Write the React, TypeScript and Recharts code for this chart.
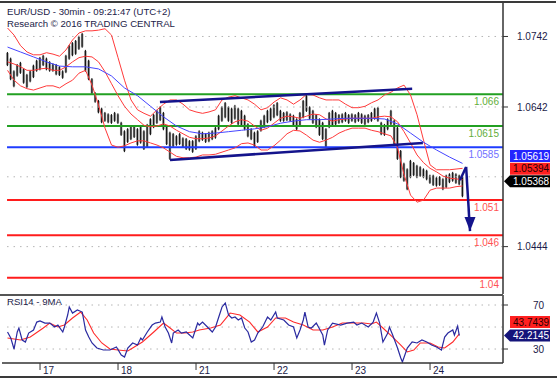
import React from "react";
import { ComposedChart, Bar, Line, XAxis, YAxis, ReferenceLine, ReferenceDot } from "recharts";

// time axis: hours since 16th 00:00 (weekend gap removed)
const BAR_START = 14;
const barHigh = [
  1.0720, 1.0712, 1.0694, 1.0703, 1.0706, 1.0697, 1.0689, 1.0694, 1.0702, 1.0709,
  1.0713, 1.0716, 1.0712, 1.0707, 1.0704, 1.0703, 1.0700, 1.0694, 1.0716, 1.0730,
  1.0734, 1.0737, 1.0743, 1.0747, 1.0723, 1.0709, 1.0683, 1.0663, 1.0652, 1.0641,
  1.0635, 1.0633, 1.0632, 1.0635, 1.0633, 1.0621, 1.0609, 1.0612, 1.0615, 1.0616,
  1.0612, 1.0615, 1.0609, 1.0618, 1.0626, 1.0632, 1.0638, 1.0643, 1.0635, 1.0615,
  1.0607, 1.0605, 1.0602, 1.0605, 1.0599, 1.0598, 1.0595, 1.0595, 1.0602, 1.0609,
  1.0607, 1.0605, 1.0607, 1.0609, 1.0614, 1.0631, 1.0643, 1.0649, 1.0643, 1.0641,
  1.0645, 1.0641, 1.0638, 1.0631, 1.0619, 1.0612, 1.0607, 1.0609, 1.0624, 1.0631,
  1.0638, 1.0641, 1.0646, 1.0649, 1.0638, 1.0635, 1.0636, 1.0633, 1.0631, 1.0626,
  1.0635, 1.0652, 1.0659, 1.0643, 1.0638, 1.0632, 1.0626, 1.0621, 1.0612, 1.0635,
  1.0638, 1.0635, 1.0632, 1.0633, 1.0635, 1.0632, 1.0633, 1.0632, 1.0635, 1.0633,
  1.0631, 1.0632, 1.0635, 1.0641, 1.0642, 1.0621, 1.0618, 1.0626, 1.0638, 1.0624,
  1.0614, 1.0581, 1.0563, 1.0555, 1.0567, 1.0564, 1.0560, 1.0558, 1.0555, 1.0553,
  1.0546, 1.0546, 1.0543, 1.0544, 1.0541, 1.0546, 1.0548, 1.0550, 1.0548, 1.0546, 1.0544,
];
const barLow = [
  1.0700, 1.0680, 1.0670, 1.0685, 1.0689, 1.0675, 1.0669, 1.0677, 1.0683, 1.0692,
  1.0694, 1.0700, 1.0694, 1.0692, 1.0692, 1.0687, 1.0686, 1.0682, 1.0690, 1.0709,
  1.0714, 1.0716, 1.0723, 1.0726, 1.0692, 1.0680, 1.0660, 1.0648, 1.0633, 1.0619,
  1.0621, 1.0619, 1.0618, 1.0621, 1.0618, 1.0601, 1.0578, 1.0591, 1.0595, 1.0598,
  1.0587, 1.0590, 1.0581, 1.0584, 1.0602, 1.0612, 1.0618, 1.0622, 1.0609, 1.0588,
  1.0567, 1.0585, 1.0587, 1.0588, 1.0584, 1.0581, 1.0580, 1.0577, 1.0581, 1.0592,
  1.0594, 1.0591, 1.0592, 1.0595, 1.0597, 1.0609, 1.0621, 1.0626, 1.0621, 1.0618,
  1.0624, 1.0616, 1.0614, 1.0609, 1.0599, 1.0595, 1.0585, 1.0591, 1.0607, 1.0612,
  1.0619, 1.0622, 1.0626, 1.0629, 1.0621, 1.0621, 1.0622, 1.0621, 1.0614, 1.0609,
  1.0615, 1.0626, 1.0635, 1.0624, 1.0618, 1.0612, 1.0601, 1.0595, 1.0584, 1.0612,
  1.0615, 1.0616, 1.0618, 1.0619, 1.0621, 1.0618, 1.0621, 1.0619, 1.0621, 1.0618,
  1.0616, 1.0619, 1.0621, 1.0624, 1.0621, 1.0602, 1.0601, 1.0609, 1.0616, 1.0588,
  1.0567, 1.0541, 1.0536, 1.0524, 1.0541, 1.0544, 1.0541, 1.0543, 1.0541, 1.0538,
  1.0533, 1.0530, 1.0529, 1.0530, 1.0524, 1.0527, 1.0534, 1.0536, 1.0533, 1.0531, 1.0514,
];

// bollinger bands, every 2 hours
const BAND_START = 14;
const BAND_STEP = 2;
const bandUpper = [
  1.0754, 1.0744, 1.0729, 1.0720, 1.0716, 1.0716, 1.0719, 1.0717, 1.0714, 1.0723,
  1.0737, 1.0747, 1.0750, 1.0750, 1.0751, 1.0753, 1.0744, 1.0712, 1.0680, 1.0652,
  1.0638, 1.0633, 1.0629, 1.0638, 1.0646, 1.0652, 1.0652, 1.0646, 1.0638, 1.0635,
  1.0633, 1.0635, 1.0638, 1.0652, 1.0656, 1.0658, 1.0655, 1.0652, 1.0646, 1.0638,
  1.0641, 1.0649, 1.0655, 1.0652, 1.0646, 1.0652, 1.0660, 1.0659, 1.0655, 1.0652,
  1.0652, 1.0652, 1.0646, 1.0641, 1.0641, 1.0643, 1.0648, 1.0652, 1.0659, 1.0663,
  1.0669, 1.0673, 1.0659, 1.0631, 1.0595, 1.0560, 1.0553, 1.0553, 1.0553, 1.0554, 1.0555,
];
const bandMid = [
  1.0706, 1.0703, 1.0699, 1.0694, 1.0694, 1.0696, 1.0697, 1.0694, 1.0694, 1.0699,
  1.0706, 1.0712, 1.0714, 1.0713, 1.0706, 1.0692, 1.0675, 1.0658, 1.0643, 1.0632,
  1.0624, 1.0616, 1.0614, 1.0615, 1.0618, 1.0615, 1.0609, 1.0604, 1.0599, 1.0597,
  1.0597, 1.0598, 1.0601, 1.0608, 1.0615, 1.0621, 1.0624, 1.0622, 1.0615, 1.0609,
  1.0612, 1.0619, 1.0626, 1.0629, 1.0628, 1.0626, 1.0629, 1.0632, 1.0631, 1.0625,
  1.0622, 1.0624, 1.0625, 1.0626, 1.0626, 1.0626, 1.0626, 1.0628, 1.0629, 1.0628,
  1.0621, 1.0607, 1.0591, 1.0574, 1.0563, 1.0555, 1.0550, 1.0544, 1.0541, 1.0540, 1.0539,
];
const bandLower = [
  1.0694, 1.0680, 1.0672, 1.0668, 1.0666, 1.0669, 1.0672, 1.0672, 1.0669, 1.0675,
  1.0680, 1.0690, 1.0694, 1.0673, 1.0645, 1.0612, 1.0588, 1.0585, 1.0587, 1.0591,
  1.0594, 1.0594, 1.0591, 1.0588, 1.0584, 1.0578, 1.0572, 1.0570, 1.0570, 1.0571,
  1.0574, 1.0574, 1.0575, 1.0578, 1.0581, 1.0584, 1.0590, 1.0591, 1.0588, 1.0581,
  1.0581, 1.0587, 1.0595, 1.0604, 1.0609, 1.0608, 1.0602, 1.0595, 1.0592, 1.0595,
  1.0599, 1.0605, 1.0609, 1.0612, 1.0612, 1.0612, 1.0609, 1.0607, 1.0604, 1.0601,
  1.0584, 1.0546, 1.0517, 1.0507, 1.0510, 1.0524, 1.0527, 1.0527, 1.0527, 1.0529, 1.0530,
];

// long moving average, every 4 hours
const MA_START = 14;
const MA_STEP = 4;
const maValues = [
  1.0727, 1.0720, 1.0713, 1.0706, 1.0700, 1.0699, 1.0699, 1.0696, 1.0686, 1.0669,
  1.0658, 1.0643, 1.0628, 1.0615, 1.0607, 1.0604, 1.0605, 1.0607, 1.0609, 1.0611,
  1.0614, 1.0619, 1.0622, 1.0624, 1.0624, 1.0625, 1.0626, 1.0626, 1.0626, 1.0625,
  1.0618, 1.0605, 1.0592, 1.0581, 1.0571, 1.0562,
];

const rsiHours = [
  14, 15, 16, 17, 17.5, 18.5, 19.5, 20.5, 22, 23, 24, 25.5, 27, 28.5, 29.5, 31, 31.5, 32.5, 33, 34,
  35.5, 37, 38, 39, 40, 41.5, 43.5, 45.5, 47.5, 49, 50, 51, 52.5, 54, 55, 55.5, 57, 58.5, 59.5, 61,
  61.5, 62.5, 63.5, 64.5, 65, 66.5, 67.5, 69, 71, 72.5, 73, 74, 75.5, 77, 78, 79, 80, 81, 82, 83,
  84, 85, 86, 87, 88, 89, 90, 91, 92.5, 94, 95, 96.5, 97, 99, 100.5, 102, 103, 104, 105, 105.5,
  106.5, 107.5, 109, 111, 111.5, 112.5, 114, 116.5, 118.5, 120.5, 121.5, 123, 125, 126.5, 127.5,
  128.5, 129.5, 131, 131.5, 132.5, 134, 135, 135.5, 137, 138.5, 140, 141.5, 143, 144.5, 146, 147.5,
  148.5, 149.5, 151, 151.5, 152.5, 153,
];
const rsiValues = [
  45.5, 40.0, 30.0, 45.5, 49.1, 38.2, 36.4, 44.5, 47.3, 54.5, 55.5, 53.6, 53.6, 50.0, 51.8, 45.5, 50.0, 60.9, 68.2, 62.7,
  65.5, 63.6, 47.3, 40.9, 35.5, 30.9, 29.1, 29.1, 31.8, 24.5, 22.7, 30.9, 35.5, 33.6, 40.0, 38.2, 45.5, 51.8, 53.6, 54.5,
  59.1, 50.0, 44.5, 35.5, 44.5, 47.3, 44.5, 45.5, 40.0, 53.6, 51.8, 54.5, 50.0, 45.5, 50.0, 59.1, 68.2, 71.8, 60.9, 58.2,
  59.1, 56.4, 58.2, 49.1, 45.5, 36.4, 38.2, 44.5, 50.0, 59.1, 56.4, 63.6, 58.2, 56.4, 51.8, 50.0, 40.0, 47.3, 56.4, 63.6,
  50.0, 49.1, 53.6, 42.7, 33.6, 47.3, 53.6, 51.8, 53.6, 54.5, 51.8, 53.6, 50.0, 54.5, 62.7,
  53.6, 36.4, 44.5, 50.0, 42.7, 30.9, 21.8, 18.2, 30.9, 36.4, 35.5, 38.2, 36.4, 33.6, 31.8, 29.1,
  40.9, 44.5, 47.3, 42.7, 50.9, 42.21,
];
const rsiMaHours = [
  14, 18, 21, 25, 27, 29.5, 31.5, 34, 36.5, 38.5, 40.5, 43, 45.5, 48, 51, 52.5, 55.5, 59, 62, 64,
  66, 68.5, 71, 73, 76.5, 79.5, 82.5, 85.5, 88.5, 91, 94, 96.5, 99.5, 102, 105, 108, 111, 114, 117, 120.5,
  123.5, 126, 127.5, 129.5, 132.5, 135, 137, 139, 141, 144, 146.5, 148.5, 151, 153,
];
const rsiMaValues = [
  40.0, 38.2, 40.9, 49.1, 53.6, 50.0, 51.8, 58.2, 63.6, 56.4, 44.5, 35.5, 30.0, 29.1, 28.2, 30.9, 36.4, 45.5, 53.6, 49.1,
  44.5, 44.5, 45.5, 47.3, 49.1, 51.8, 62.7, 60.9, 54.5, 45.5, 50.0, 58.2, 58.2, 54.5, 51.8, 47.3, 47.3, 50.0, 53.6, 53.6,
  53.6, 52.7, 54.5, 49.1, 40.9, 33.6, 27.3, 29.1, 35.5, 35.5, 31.8, 30.9, 36.4, 43.74,
];

const levelValues = [1.066, 1.0615, 1.0585, 1.051, 1.046, 1.04];
const levelLabels = ["1.066", "1.0615", "1.0585", "1.051", "1.046", "1.04"];
const levelKinds = ["res", "res", "pivot", "sup", "sup", "sup"];

const priceTicks = [1.0444, 1.0642, 1.0742];
const priceGrid = [1.0444, 1.0543, 1.0642, 1.0742];
const dayTicks = [24, 48, 72, 96, 120, 144];
const dayLabels = ["17", "18", "21", "22", "23", "24"];

const channelUpper = [{ x: 60.9, y: 1.0649 }, { x: 138.5, y: 1.0668 }];
const channelLower = [{ x: 64, y: 1.0567 }, { x: 141.8, y: 1.0591 }];
const forecastHours = [153.2, 155.1, 156.3];
const forecastPrices = [1.0538, 1.0557, 1.0466];

const lastClose = 1.05368;
const lastMa = 1.05619;
const lastMid = 1.05394;
const lastRsi = 42.2145;
const lastRsiMa = 43.7439;

const X_MIN = 12.3;
const X_MAX = 166.45;
const LINE_START = 13.85;
const Y_MIN = 1.03768;
const Y_MAX = 1.07909;
const RSI_MIN = 17.3;
const RSI_MAX = 79.1;

const FONT = "'Liberation Sans', Arial, Helvetica, sans-serif";
const INK = "#1b1b48";
const kindStyle: Record<string, { line: string; text: string }> = {
  res: { line: "#22a022", text: "#62ad3a" },
  pivot: { line: "#1f3cff", text: "#7070ff" },
  sup: { line: "#ff1c1c", text: "#ff5252" },
};

const mainRows = barHigh.map((hi, i) => {
  const h = BAR_START + i;
  const b = (h - BAND_START) / BAND_STEP;
  const m = (h - MA_START) / MA_STEP;
  const hasBand = Number.isInteger(b) && b < bandUpper.length;
  return {
    h,
    range: [barLow[i], hi],
    upper: hasBand ? bandUpper[b] : null,
    mid: hasBand ? bandMid[b] : null,
    lower: hasBand ? bandLower[b] : null,
    ma: Number.isInteger(m) && m < maValues.length ? maValues[m] : null,
  };
});

const rsiRowMap = new Map<number, { h: number; rsi: number | null; rsiMa: number | null }>();
rsiHours.forEach((h, i) => rsiRowMap.set(h, { h, rsi: rsiValues[i], rsiMa: null }));
rsiMaHours.forEach((h, i) => {
  const row = rsiRowMap.get(h);
  if (row) row.rsiMa = rsiMaValues[i];
  else rsiRowMap.set(h, { h, rsi: null, rsiMa: rsiMaValues[i] });
});
const rsiRows = Array.from(rsiRowMap.values()).sort((a, b) => a.h - b.h);

function PriceBar(props: any) {
  const { x, y, width, height } = props;
  if (x == null || y == null || height == null) return null;
  const top = Math.min(y, y + height);
  const len = Math.abs(height);
  const mid = x + width / 2;
  return (
    <g>
      <rect x={mid - 1.2} y={top + 1} width={2.4} height={Math.max(len - 2, 0)} fill="#8c8c8c" />
      <line x1={mid} x2={mid} y1={top} y2={top + len} stroke="#0a0a0a" strokeWidth={1} />
    </g>
  );
}

function PriceTag({ cx, cy, dy = 0, text, bg, color, arrow }: any) {
  if (cx == null || cy == null) return null;
  const y = cy + dy;
  const left = cx + 7;
  const right = cx + 47;
  const pts = arrow
    ? `${cx + 1},${y} ${left},${y - 6} ${right},${y - 6} ${right},${y + 6} ${left},${y + 6}`
    : `${left},${y - 6} ${right},${y - 6} ${right},${y + 6} ${left},${y + 6}`;
  return (
    <g>
      <polygon points={pts} fill={bg} />
      <text x={left + 3} y={y + 3.6} fontSize={10} fill={color} fontFamily={FONT}>
        {text}
      </text>
    </g>
  );
}

function DayTick(props: any) {
  const { x, y, payload } = props;
  const label = dayLabels[dayTicks.indexOf(payload.value)];
  return (
    <text x={x + 3} y={y + 3.5} fontSize={10} fill={INK} fontFamily={FONT}>
      {label}
    </text>
  );
}

function RsiTick(props: any) {
  const { y, payload } = props;
  return (
    <text x={533} y={y + 3.5} fontSize={10} fill={INK} fontFamily={FONT}>
      {payload.value}
    </text>
  );
}

const hLine = (top: number, left: number, width: number, color = "#3a3a3a") => (
  <div style={{ position: "absolute", top, left, width, height: 0, borderTop: `2px solid ${color}` }} />
);

export default function App() {
  return (
    <div
      style={{
        position: "absolute",
        left: 0,
        top: 0,
        width: 557,
        height: 381,
        background: "#fff",
        fontFamily: FONT,
        overflow: "hidden",
      }}
    >
      <div style={{ position: "absolute", left: 0, top: 0 }}>
        <ComposedChart width={557} height={296} data={mainRows} margin={{ top: 2, right: 0, bottom: 2, left: 2 }}>
          <XAxis dataKey="h" type="number" domain={[X_MIN, X_MAX]} allowDataOverflow hide />
          <YAxis
            orientation="right"
            width={54}
            domain={[Y_MIN, Y_MAX]}
            allowDataOverflow
            ticks={priceTicks}
            interval={0}
            tickFormatter={(v: number) => v.toFixed(4)}
            tickSize={5}
            tickMargin={9}
            tick={{ fill: INK, fontSize: 10, fontFamily: FONT }}
            axisLine={{ stroke: "#333", strokeWidth: 1.5 }}
            tickLine={{ stroke: "#333" }}
          />
          {priceGrid.map((p) => (
            <ReferenceLine
              key={`g${p}`}
              segment={[{ x: LINE_START, y: p }, { x: X_MAX, y: p }]}
              stroke="#b4b4b4"
              strokeDasharray="1.5 5"
            />
          ))}
          {levelValues.map((v, i) => (
            <ReferenceLine
              key={`l${v}`}
              segment={[{ x: LINE_START, y: v }, { x: X_MAX, y: v }]}
              stroke={kindStyle[levelKinds[i]].line}
              strokeWidth={2}
            />
          ))}
          <Bar dataKey="range" barSize={3} shape={PriceBar} isAnimationActive={false} />
          <Line dataKey="upper" stroke="#ff3a3a" strokeWidth={1} dot={false} connectNulls isAnimationActive={false} />
          <Line dataKey="mid" stroke="#ff3a3a" strokeWidth={1} dot={false} connectNulls isAnimationActive={false} />
          <Line dataKey="lower" stroke="#ff3a3a" strokeWidth={1} dot={false} connectNulls isAnimationActive={false} />
          <Line dataKey="ma" stroke="#4646ff" strokeWidth={1} dot={false} connectNulls isAnimationActive={false} />
          <ReferenceLine segment={channelUpper} stroke="#14148c" strokeWidth={2.5} />
          <ReferenceLine segment={channelLower} stroke="#14148c" strokeWidth={2.5} />
          {forecastHours.slice(1).map((h, i) => (
            <ReferenceLine
              key={`f${h}`}
              segment={[
                { x: forecastHours[i], y: forecastPrices[i] },
                { x: h, y: forecastPrices[i + 1] },
              ]}
              stroke="#14148c"
              strokeWidth={2.5}
            />
          ))}
          <ReferenceDot
            x={forecastHours[forecastHours.length - 1]}
            y={forecastPrices[forecastPrices.length - 1]}
            r={0}
            ifOverflow="visible"
            shape={(p: any) => (
              <polygon
                points={`${p.cx - 5.5},${p.cy - 14} ${p.cx + 5.5},${p.cy - 14} ${p.cx},${p.cy}`}
                fill="#14148c"
              />
            )}
          />
          {levelValues.map((v, i) => (
            <ReferenceDot
              key={`t${v}`}
              x={X_MAX}
              y={v}
              r={0}
              ifOverflow="visible"
              shape={(p: any) => (
                <text
                  x={p.cx - 4}
                  y={p.cy + 10.5}
                  textAnchor="end"
                  fontSize={10}
                  fontFamily={FONT}
                  fill={kindStyle[levelKinds[i]].text}
                >
                  {levelLabels[i]}
                </text>
              )}
            />
          ))}
          <ReferenceDot
            x={X_MAX}
            y={lastMa}
            r={0}
            ifOverflow="visible"
            shape={(p: any) => <PriceTag cx={p.cx} cy={p.cy} dy={-7.5} text={lastMa.toFixed(5)} bg="#2424ff" color="#fff" />}
          />
          <ReferenceDot
            x={X_MAX}
            y={lastMid}
            r={0}
            ifOverflow="visible"
            shape={(p: any) => <PriceTag cx={p.cx} cy={p.cy} dy={-10.5} text={lastMid.toFixed(5)} bg="#ff2020" color="#2a0000" />}
          />
          <ReferenceDot
            x={X_MAX}
            y={lastClose}
            r={0}
            ifOverflow="visible"
            shape={(p: any) => <PriceTag cx={p.cx} cy={p.cy} text={lastClose.toFixed(5)} bg="#000" color="#fff" arrow />}
          />
        </ComposedChart>
      </div>

      <div style={{ position: "absolute", left: 0, top: 295 }}>
        <ComposedChart width={557} height={86} data={rsiRows} margin={{ top: 0, right: 0, bottom: 0, left: 2 }}>
          <XAxis
            dataKey="h"
            type="number"
            domain={[X_MIN, X_MAX]}
            allowDataOverflow
            ticks={dayTicks}
            interval={0}
            height={18}
            tickSize={7}
            tickMargin={0}
            axisLine={{ stroke: "#333", strokeWidth: 1.5 }}
            tickLine={{ stroke: "#333" }}
            tick={(p: any) => <DayTick {...p} />}
          />
          <YAxis
            orientation="right"
            width={54}
            domain={[RSI_MIN, RSI_MAX]}
            allowDataOverflow
            ticks={[30, 70]}
            interval={0}
            tickSize={5}
            axisLine={{ stroke: "#333", strokeWidth: 1.5 }}
            tickLine={{ stroke: "#333" }}
            tick={(p: any) => <RsiTick {...p} />}
          />
          {[30, 50, 70].map((v) => (
            <ReferenceLine
              key={`r${v}`}
              segment={[{ x: LINE_START, y: v }, { x: X_MAX, y: v }]}
              stroke="#b4b4b4"
              strokeDasharray="1.5 5"
            />
          ))}
          <Line dataKey="rsiMa" stroke="#ff2a2a" strokeWidth={1.1} dot={false} connectNulls isAnimationActive={false} />
          <Line dataKey="rsi" stroke="#2a2aa0" strokeWidth={1.2} dot={false} connectNulls isAnimationActive={false} />
          <ReferenceDot
            x={X_MAX}
            y={lastRsiMa}
            r={0}
            ifOverflow="visible"
            shape={(p: any) => <PriceTag cx={p.cx} cy={p.cy} dy={-12} text={lastRsiMa.toFixed(4)} bg="#ff2020" color="#2a0000" />}
          />
          <ReferenceDot
            x={X_MAX}
            y={lastRsi}
            r={0}
            ifOverflow="visible"
            shape={(p: any) => <PriceTag cx={p.cx} cy={p.cy} text={lastRsi.toFixed(4)} bg="#14147a" color="#fff" arrow />}
          />
        </ComposedChart>
      </div>

      {hLine(1, 0, 556)}
      {hLine(294, 0, 503, "#555")}
      {hLine(376, 0, 557)}

      <div style={{ position: "absolute", left: 7, top: 6, fontSize: 9.6, lineHeight: "12px", color: INK, whiteSpace: "nowrap" }}>
        EUR/USD - 30min - 09:21:47 (UTC+2)
      </div>
      <div style={{ position: "absolute", left: 7, top: 18, fontSize: 9.6, lineHeight: "12px", color: INK, whiteSpace: "nowrap" }}>
        Research © 2016 TRADING CENTRAL
      </div>
      <div style={{ position: "absolute", left: 7, top: 296, fontSize: 9.6, lineHeight: "11px", color: INK, whiteSpace: "nowrap" }}>
        RSI14 - 9MA
      </div>
    </div>
  );
}
